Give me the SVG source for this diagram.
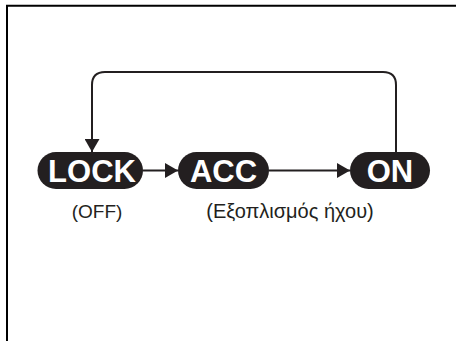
<svg xmlns="http://www.w3.org/2000/svg" width="456" height="341" viewBox="0 0 456 341">
<style>
.pill{fill:#231f20}
.lbl{font-family:"Liberation Sans",Arial,sans-serif;font-weight:bold;font-size:31px;fill:#fff;text-anchor:middle}
.sub{font-family:"Liberation Sans",Arial,sans-serif;font-size:19px;fill:#231f20;text-anchor:middle}
.conn{fill:none;stroke:#231f20;stroke-width:2}
</style>
<defs>
<marker id="ah" markerUnits="userSpaceOnUse" markerWidth="13" markerHeight="15" refX="13" refY="7.5" orient="auto">
<path d="M0,0 L13,7.5 L0,15 Z" fill="#231f20"/>
</marker>
</defs>
<rect width="456" height="341" fill="#fff"/>
<path d="M7,341 V5.7 H456" fill="none" stroke="#000" stroke-width="2"/>
<g id="connectors">
<path class="conn" d="M143,170.5 H178" marker-end="url(#ah)"/>
<path class="conn" d="M269,170.5 H350" marker-end="url(#ah)"/>
<path class="conn" d="M396,152 V85 Q396,72 383,72 H105 Q92,72 92,85 V152" marker-end="url(#ah)"/>
</g>
<g id="lock">
<rect class="pill" x="37.5" y="152" width="105.5" height="37" rx="18.5"/>
<text class="lbl" x="92" y="181.5">LOCK</text>
<text class="sub" x="97" y="218">(OFF)</text>
</g>
<g id="acc">
<rect class="pill" x="178" y="152" width="91" height="37" rx="18.5"/>
<text class="lbl" x="223.5" y="181.5">ACC</text>
</g>
<g id="on">
<rect class="pill" x="350" y="152" width="80" height="37" rx="18.5"/>
<text class="lbl" x="390" y="181.5">ON</text>
</g>
<text class="sub" x="290" y="218" style="font-size:20px">(Εξοπλισμός ήχου)</text>
</svg>
